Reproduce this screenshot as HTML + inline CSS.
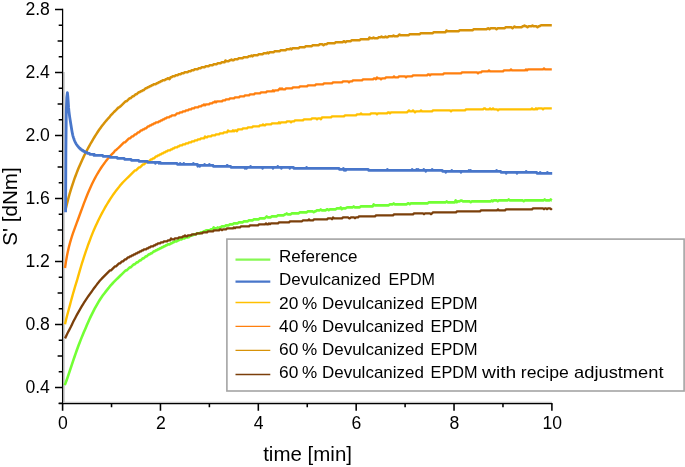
<!DOCTYPE html>
<html><head><meta charset="utf-8"><title>S' vs time</title>
<style>html,body{margin:0;padding:0;background:#fff}svg{display:block}text{font-family:"Liberation Sans",Arial,sans-serif;fill:#000}</style></head>
<body>
<svg width="685" height="467" viewBox="0 0 685 467">
<rect width="685" height="467" fill="#fff"/>
<path d="M64.1,72 V402.3 H552" fill="none" stroke="#c6c6c6" stroke-width="1.3"/>
<g fill="none" stroke-linejoin="round" stroke-linecap="butt" transform="translate(0,0.35)">
<polyline stroke="#72FF34" stroke-width="2.6" points="64.7,384.78 65.7,382.31 66.7,379.61 67.7,376.76 68.7,373.81 69.7,370.81 70.7,367.79 71.7,364.77 72.7,361.78 73.7,358.82 74.7,355.90 75.7,353.02 76.7,350.18 77.7,347.41 78.7,344.71 79.7,342.08 80.7,339.51 81.7,337.02 82.7,334.59 83.7,332.24 84.7,329.95 85.7,327.57 86.7,325.18 87.7,322.86 88.7,320.60 89.7,318.41 90.7,316.28 91.7,314.21 92.7,312.20 93.7,310.25 94.7,308.35 95.7,306.50 96.7,304.71 97.7,302.96 98.7,301.26 99.7,299.61 100.7,298.09 101.7,296.65 102.7,295.26 103.7,293.90 104.7,292.57 105.7,291.28 106.7,290.00 107.7,288.76 108.7,287.58 109.7,286.23 110.7,285.09 111.7,283.98 112.7,282.91 113.7,281.87 114.7,280.85 115.7,279.84 116.7,278.85 117.7,277.87 118.7,276.89 119.7,275.92 120.7,274.95 121.7,273.98 122.7,273.00 123.7,272.01 124.7,271.02 125.7,270.01 126.7,270.00 127.7,269.00 128.7,268.00 129.7,267.00 130.7,267.00 131.7,266.00 132.7,265.00 133.7,264.00 134.7,264.00 135.7,263.00 136.7,262.00 137.7,262.00 138.7,261.00 139.7,260.00 140.7,260.00 141.7,259.00 142.7,258.00 143.7,258.00 144.7,257.00 145.7,256.00 146.7,256.00 147.7,255.00 148.7,254.00 149.7,254.00 150.7,253.00 151.7,253.00 152.7,252.00 153.7,251.00 154.7,251.00 155.7,250.00 156.7,250.00 157.7,249.00 158.7,249.00 159.7,248.00 160.7,248.00 161.7,247.00 162.7,247.00 163.7,246.00 164.7,246.00 165.7,245.00 166.7,245.00 167.7,244.00 168.7,244.00 169.7,244.00 170.7,243.00 171.7,243.00 172.7,242.00 173.7,242.00 174.7,241.00 175.7,241.00 176.7,241.00 177.7,240.00 178.7,240.00 179.7,239.00 180.7,239.00 181.7,239.00 182.7,238.00 183.7,238.00 184.7,238.00 185.7,237.00 186.7,237.00 187.7,237.00 188.7,236.90 189.7,236.00 190.7,235.00 191.7,235.00 192.7,235.00 193.7,234.00 194.7,234.00 195.7,234.00 196.7,233.00 197.7,233.00 198.7,233.00 199.7,233.00 200.7,232.00 201.7,232.00 202.7,232.00 203.7,231.00 204.7,231.00 205.7,230.10 206.7,230.00 207.7,230.00 208.7,230.00 209.7,230.00 210.7,229.00 211.7,229.00 212.7,229.00 213.7,227.10 214.7,228.00 215.7,228.00 216.7,228.00 217.7,227.00 218.7,227.90 219.7,227.00 220.7,227.00 221.7,226.00 222.7,226.00 223.7,226.00 224.7,226.00 225.7,225.00 226.7,225.00 227.7,225.00 228.7,225.00 229.7,224.00 230.7,224.00 231.7,224.00 232.7,224.00 233.7,223.00 234.7,223.00 235.7,223.00 236.7,223.00 237.7,223.00 238.7,222.00 239.7,222.00 240.7,222.00 241.7,222.00 242.7,222.00 243.7,221.00 244.7,221.00 245.7,221.00 246.7,221.00 247.7,221.00 248.7,220.00 249.7,220.00 250.7,220.00 251.7,220.00 252.7,220.00 253.7,219.00 254.7,219.00 255.7,219.00 256.7,219.00 257.7,219.00 258.7,219.00 259.7,218.00 260.7,218.00 261.7,218.00 262.7,218.00 263.7,218.00 264.7,218.00 265.7,217.00 266.7,216.10 267.7,217.00 268.7,217.00 269.7,217.00 270.7,217.00 271.7,216.00 272.7,216.00 273.7,216.00 274.7,216.00 275.7,216.00 276.7,216.00 277.7,215.00 278.7,215.00 279.7,215.00 280.7,215.00 281.7,215.00 282.7,215.00 283.7,215.00 284.7,214.00 285.7,214.00 286.7,213.10 287.7,214.00 288.7,214.00 289.7,214.00 290.7,214.00 291.7,213.00 292.7,213.00 293.7,213.00 294.7,213.00 295.7,213.00 296.7,213.00 297.7,213.00 298.7,213.00 299.7,212.00 300.7,212.00 301.7,212.00 302.7,212.00 303.7,212.00 304.7,212.00 305.7,212.00 306.7,212.00 307.7,211.00 308.7,211.00 309.7,211.00 310.7,211.00 311.7,211.00 312.7,211.00 313.7,211.90 314.7,211.00 315.7,211.00 316.7,210.00 317.7,210.00 318.7,210.00 319.7,210.00 320.7,209.10 321.7,210.00 322.7,210.00 323.7,210.00 324.7,210.00 325.7,210.00 326.7,209.00 327.7,209.00 328.7,209.90 329.7,209.00 330.7,209.00 331.7,209.00 332.7,209.00 333.7,209.00 334.7,209.00 335.7,209.00 336.7,208.00 337.7,208.00 338.7,208.00 339.7,208.00 340.7,207.10 341.7,208.90 342.7,208.00 343.7,208.00 344.7,208.00 345.7,208.00 346.7,207.10 347.7,207.00 348.7,207.00 349.7,207.00 350.7,207.00 351.7,207.00 352.7,207.00 353.7,206.10 354.7,207.00 355.7,207.00 356.7,207.00 357.7,207.00 358.7,207.00 359.7,207.00 360.7,206.00 361.7,206.00 362.7,206.00 363.7,206.00 364.7,206.00 365.7,206.00 366.7,206.00 367.7,206.00 368.7,206.00 369.7,206.00 370.7,206.00 371.7,206.00 372.7,206.00 373.7,204.10 374.7,205.00 375.7,205.00 376.7,205.00 377.7,205.00 378.7,205.00 379.7,205.00 380.7,205.00 381.7,205.00 382.7,205.00 383.7,205.00 384.7,205.00 385.7,205.00 386.7,205.00 387.7,205.00 388.7,205.00 389.7,204.00 390.7,204.00 391.7,204.00 392.7,204.00 393.7,203.10 394.7,204.00 395.7,204.00 396.7,204.00 397.7,204.00 398.7,204.00 399.7,204.00 400.7,204.00 401.7,204.00 402.7,204.00 403.7,204.00 404.7,204.00 405.7,204.00 406.7,204.00 407.7,203.00 408.7,203.00 409.7,203.90 410.7,203.00 411.7,203.00 412.7,203.00 413.7,203.00 414.7,203.00 415.7,203.00 416.7,203.00 417.7,203.00 418.7,203.00 419.7,203.00 420.7,203.00 421.7,203.00 422.7,203.00 423.7,203.00 424.7,203.00 425.7,203.00 426.7,203.00 427.7,203.00 428.7,202.00 429.7,202.00 430.7,202.00 431.7,202.00 432.7,202.00 433.7,202.00 434.7,202.00 435.7,202.00 436.7,202.00 437.7,202.00 438.7,202.00 439.7,202.00 440.7,202.00 441.7,202.00 442.7,202.00 443.7,202.00 444.7,202.00 445.7,202.00 446.7,201.10 447.7,202.00 448.7,202.00 449.7,202.00 450.7,202.00 451.7,202.00 452.7,202.00 453.7,202.00 454.7,202.00 455.7,200.10 456.7,201.90 457.7,201.00 458.7,201.00 459.7,201.00 460.7,200.10 461.7,200.10 462.7,201.00 463.7,201.00 464.7,201.00 465.7,201.00 466.7,201.00 467.7,201.00 468.7,201.00 469.7,201.00 470.7,201.90 471.7,201.00 472.7,201.00 473.7,201.00 474.7,201.00 475.7,201.00 476.7,201.00 477.7,201.00 478.7,201.00 479.7,201.00 480.7,201.00 481.7,201.00 482.7,201.00 483.7,201.00 484.7,201.00 485.7,201.00 486.7,201.00 487.7,201.00 488.7,201.00 489.7,201.00 490.7,201.00 491.7,200.10 492.7,201.00 493.7,200.00 494.7,200.00 495.7,200.00 496.7,200.00 497.7,200.90 498.7,200.00 499.7,200.00 500.7,200.00 501.7,200.00 502.7,200.00 503.7,200.00 504.7,200.00 505.7,200.00 506.7,200.00 507.7,200.00 508.7,199.10 509.7,200.00 510.7,200.00 511.7,200.00 512.7,200.00 513.7,200.00 514.7,200.00 515.7,200.00 516.7,200.00 517.7,200.00 518.7,200.00 519.7,200.00 520.7,200.00 521.7,200.00 522.7,200.00 523.7,200.90 524.7,200.00 525.7,200.00 526.7,200.00 527.7,200.00 528.7,200.00 529.7,200.00 530.7,200.00 531.7,200.00 532.7,200.00 533.7,200.00 534.7,200.00 535.7,200.00 536.7,200.00 537.7,200.00 538.7,200.00 539.7,200.00 540.7,200.00 541.7,200.00 542.7,200.00 543.7,200.00 544.7,199.10 545.7,200.00 546.7,200.00 547.7,200.00 548.7,200.00 549.7,200.00 550.7,199.10 551.7,200.00 551.8,200.00"/>
<polyline stroke="#FFC000" stroke-width="2.4" points="65.0,323.87 66.0,319.70 67.0,315.69 68.0,311.83 69.0,308.11 70.0,304.54 71.0,300.72 72.0,297.02 73.0,293.44 74.0,289.96 75.0,286.57 76.0,283.29 77.0,280.10 78.0,276.49 79.0,272.96 80.0,269.52 81.0,266.15 82.0,262.86 83.0,259.70 84.0,256.62 85.0,253.59 86.0,250.62 87.0,247.72 88.0,244.87 89.0,242.14 90.0,239.47 91.0,236.84 92.0,234.27 93.0,231.74 94.0,229.36 95.0,227.13 96.0,224.94 97.0,222.81 98.0,220.72 99.0,218.67 100.0,216.68 101.0,214.72 102.0,212.81 103.0,210.94 104.0,209.12 105.0,207.34 106.0,205.60 107.0,203.91 108.0,202.26 109.0,200.65 110.0,199.08 111.0,197.55 112.0,196.06 113.0,194.59 114.0,193.16 115.0,191.77 116.0,190.41 117.0,189.09 118.0,187.81 119.0,186.61 120.0,185.27 121.0,184.11 122.0,183.00 123.0,181.93 124.0,180.89 125.0,179.87 126.0,178.88 127.0,177.89 128.0,176.92 129.0,175.94 130.0,174.97 131.0,173.99 132.0,173.01 133.0,172.02 134.0,171.03 135.0,170.03 136.0,169.99 137.0,169.00 138.0,168.00 139.0,167.00 140.0,167.00 141.0,166.00 142.0,165.00 143.0,164.00 144.0,164.00 145.0,163.00 146.0,162.00 147.0,162.00 148.0,161.00 149.0,161.00 150.0,160.00 151.0,159.00 152.0,159.00 153.0,158.00 154.0,158.00 155.0,157.00 156.0,156.00 157.0,156.00 158.0,155.00 159.0,155.00 160.0,154.00 161.0,154.00 162.0,153.00 163.0,153.00 164.0,152.00 165.0,152.00 166.0,151.00 167.0,151.00 168.0,150.00 169.0,150.00 170.0,150.00 171.0,149.00 172.0,149.00 173.0,148.00 174.0,148.00 175.0,147.00 176.0,147.00 177.0,147.00 178.0,146.00 179.0,146.00 180.0,145.00 181.0,145.00 182.0,145.00 183.0,144.00 184.0,144.00 185.0,144.00 186.0,143.00 187.0,143.00 188.0,143.00 189.0,142.00 190.0,142.00 191.0,142.00 192.0,141.00 193.0,141.00 194.0,141.00 195.0,140.00 196.0,140.00 197.0,140.00 198.0,139.00 199.0,139.00 200.0,139.00 201.0,138.00 202.0,138.00 203.0,138.00 204.0,138.00 205.0,136.10 206.0,137.00 207.0,137.00 208.0,136.00 209.0,136.00 210.0,136.00 211.0,136.00 212.0,135.00 213.0,135.00 214.0,135.00 215.0,135.00 216.0,134.00 217.0,134.00 218.0,134.00 219.0,134.00 220.0,133.00 221.0,133.00 222.0,133.00 223.0,133.00 224.0,132.00 225.0,132.00 226.0,132.00 227.0,132.00 228.0,130.10 229.0,131.00 230.0,131.00 231.0,131.00 232.0,131.00 233.0,130.00 234.0,130.90 235.0,130.00 236.0,130.00 237.0,130.90 238.0,129.00 239.0,129.00 240.0,129.00 241.0,129.00 242.0,129.00 243.0,128.00 244.0,128.00 245.0,128.00 246.0,128.00 247.0,128.00 248.0,127.00 249.0,127.00 250.0,127.00 251.0,127.00 252.0,127.00 253.0,126.10 254.0,126.00 255.0,126.00 256.0,126.00 257.0,126.00 258.0,126.00 259.0,126.00 260.0,125.00 261.0,125.00 262.0,125.00 263.0,124.10 264.0,125.00 265.0,125.00 266.0,124.00 267.0,124.00 268.0,124.00 269.0,124.00 270.0,124.00 271.0,124.00 272.0,123.00 273.0,123.00 274.0,123.00 275.0,123.00 276.0,123.00 277.0,123.00 278.0,123.00 279.0,122.00 280.0,122.90 281.0,122.00 282.0,122.00 283.0,122.00 284.0,122.00 285.0,122.00 286.0,122.00 287.0,121.00 288.0,121.00 289.0,121.00 290.0,121.00 291.0,121.90 292.0,121.00 293.0,121.00 294.0,121.00 295.0,120.00 296.0,120.00 297.0,120.00 298.0,120.00 299.0,120.00 300.0,120.00 301.0,120.00 302.0,120.00 303.0,119.90 304.0,119.00 305.0,119.00 306.0,119.00 307.0,119.00 308.0,119.00 309.0,119.00 310.0,119.00 311.0,119.00 312.0,118.00 313.0,118.00 314.0,118.00 315.0,118.00 316.0,118.00 317.0,118.90 318.0,118.00 319.0,118.00 320.0,118.00 321.0,118.90 322.0,117.00 323.0,117.00 324.0,117.00 325.0,117.00 326.0,117.00 327.0,117.00 328.0,117.00 329.0,117.00 330.0,117.00 331.0,117.00 332.0,116.00 333.0,116.00 334.0,116.00 335.0,116.00 336.0,116.00 337.0,116.00 338.0,116.00 339.0,116.00 340.0,116.00 341.0,116.00 342.0,116.00 343.0,116.00 344.0,115.90 345.0,115.00 346.0,115.00 347.0,115.00 348.0,115.00 349.0,115.00 350.0,115.00 351.0,115.00 352.0,115.00 353.0,115.00 354.0,115.00 355.0,115.00 356.0,115.00 357.0,114.00 358.0,114.00 359.0,114.00 360.0,114.00 361.0,113.10 362.0,114.00 363.0,114.00 364.0,114.00 365.0,114.00 366.0,114.00 367.0,114.00 368.0,114.00 369.0,114.00 370.0,114.00 371.0,113.00 372.0,113.00 373.0,113.00 374.0,113.00 375.0,113.00 376.0,113.00 377.0,113.90 378.0,113.00 379.0,113.00 380.0,113.00 381.0,113.00 382.0,113.00 383.0,113.00 384.0,113.00 385.0,113.00 386.0,113.00 387.0,113.00 388.0,112.00 389.0,112.00 390.0,112.90 391.0,112.00 392.0,112.00 393.0,112.00 394.0,112.00 395.0,112.00 396.0,112.00 397.0,112.00 398.0,112.00 399.0,112.00 400.0,112.00 401.0,112.00 402.0,112.00 403.0,112.00 404.0,112.00 405.0,112.00 406.0,112.00 407.0,112.00 408.0,111.00 409.0,110.10 410.0,111.00 411.0,111.00 412.0,111.00 413.0,110.10 414.0,111.00 415.0,111.90 416.0,111.00 417.0,111.00 418.0,111.00 419.0,111.00 420.0,111.00 421.0,110.10 422.0,111.00 423.0,111.00 424.0,111.00 425.0,111.00 426.0,111.00 427.0,111.00 428.0,111.00 429.0,111.00 430.0,111.00 431.0,111.00 432.0,111.00 433.0,110.00 434.0,110.00 435.0,110.00 436.0,110.00 437.0,110.00 438.0,110.00 439.0,110.00 440.0,110.00 441.0,110.00 442.0,110.00 443.0,110.00 444.0,110.00 445.0,110.00 446.0,110.00 447.0,110.00 448.0,110.00 449.0,110.00 450.0,110.00 451.0,110.90 452.0,110.00 453.0,110.00 454.0,110.00 455.0,110.00 456.0,110.00 457.0,110.00 458.0,110.00 459.0,110.00 460.0,110.00 461.0,110.00 462.0,110.00 463.0,110.00 464.0,110.00 465.0,110.00 466.0,109.00 467.0,109.00 468.0,109.00 469.0,109.00 470.0,109.00 471.0,109.00 472.0,109.00 473.0,109.00 474.0,109.00 475.0,109.00 476.0,109.00 477.0,109.00 478.0,109.00 479.0,109.00 480.0,109.00 481.0,109.00 482.0,109.00 483.0,109.00 484.0,108.10 485.0,108.10 486.0,109.00 487.0,109.00 488.0,109.00 489.0,109.00 490.0,108.10 491.0,109.00 492.0,109.00 493.0,108.10 494.0,109.00 495.0,109.00 496.0,109.00 497.0,109.00 498.0,109.90 499.0,109.00 500.0,109.00 501.0,109.00 502.0,109.00 503.0,109.00 504.0,109.00 505.0,109.00 506.0,109.00 507.0,109.00 508.0,109.00 509.0,109.00 510.0,109.00 511.0,109.00 512.0,109.00 513.0,109.00 514.0,109.00 515.0,109.00 516.0,109.00 517.0,109.00 518.0,109.00 519.0,109.00 520.0,109.00 521.0,109.00 522.0,109.00 523.0,109.00 524.0,109.00 525.0,109.00 526.0,109.00 527.0,109.00 528.0,109.00 529.0,109.00 530.0,109.00 531.0,109.00 532.0,108.10 533.0,109.00 534.0,109.00 535.0,109.00 536.0,108.00 537.0,108.90 538.0,108.00 539.0,108.00 540.0,108.00 541.0,108.00 542.0,108.00 543.0,108.90 544.0,108.00 545.0,108.00 546.0,108.00 547.0,108.00 548.0,108.00 549.0,108.00 550.0,108.00 551.0,108.00 551.8,108.00"/>
<polyline stroke="#FF7F0E" stroke-width="2.4" points="65.0,267.67 66.0,260.99 67.0,255.34 68.0,250.50 69.0,246.26 70.0,242.49 71.0,239.05 72.0,235.88 73.0,232.89 74.0,230.03 75.0,227.25 76.0,224.53 77.0,221.82 78.0,219.12 79.0,216.40 80.0,213.66 81.0,210.92 82.0,208.19 83.0,205.49 84.0,202.82 85.0,200.21 86.0,197.65 87.0,195.15 88.0,192.72 89.0,190.36 90.0,188.07 91.0,185.86 92.0,183.72 93.0,181.66 94.0,179.68 95.0,177.78 96.0,175.94 97.0,174.16 98.0,172.45 99.0,170.79 100.0,169.19 101.0,167.66 102.0,166.19 103.0,164.76 104.0,163.37 105.0,162.02 106.0,160.73 107.0,159.41 108.0,158.18 109.0,157.02 110.0,155.91 111.0,154.83 112.0,153.79 113.0,152.77 114.0,151.78 115.0,150.20 116.0,149.82 117.0,148.86 118.0,147.89 119.0,146.93 120.0,145.96 121.0,144.99 122.0,144.00 123.0,143.01 124.0,142.01 125.0,142.00 126.0,141.00 127.0,140.00 128.0,139.00 129.0,138.00 130.0,138.00 131.0,137.00 132.0,136.00 133.0,136.00 134.0,135.00 135.0,134.00 136.0,134.00 137.0,133.00 138.0,132.00 139.0,132.00 140.0,131.00 141.0,130.00 142.0,130.00 143.0,129.00 144.0,129.00 145.0,128.00 146.0,128.00 147.0,127.00 148.0,126.00 149.0,126.00 150.0,125.00 151.0,125.00 152.0,124.00 153.0,124.00 154.0,123.00 155.0,123.00 156.0,122.00 157.0,122.00 158.0,122.00 159.0,121.00 160.0,121.00 161.0,120.00 162.0,120.00 163.0,119.00 164.0,119.00 165.0,118.00 166.0,118.00 167.0,117.00 168.0,117.00 169.0,117.00 170.0,116.00 171.0,116.00 172.0,115.00 173.0,115.00 174.0,115.00 175.0,114.90 176.0,114.00 177.0,113.00 178.0,113.00 179.0,113.00 180.0,112.00 181.0,112.00 182.0,112.00 183.0,111.00 184.0,111.00 185.0,111.00 186.0,110.00 187.0,110.00 188.0,110.00 189.0,109.00 190.0,109.00 191.0,109.00 192.0,108.00 193.0,108.00 194.0,108.00 195.0,107.00 196.0,107.00 197.0,107.00 198.0,107.00 199.0,106.00 200.0,106.00 201.0,106.00 202.0,105.00 203.0,105.00 204.0,104.10 205.0,105.00 206.0,104.00 207.0,104.00 208.0,104.00 209.0,104.00 210.0,103.00 211.0,103.00 212.0,103.00 213.0,102.00 214.0,102.00 215.0,101.10 216.0,102.00 217.0,101.00 218.0,101.00 219.0,101.00 220.0,101.00 221.0,101.00 222.0,100.90 223.0,100.00 224.0,100.00 225.0,100.00 226.0,99.00 227.0,99.00 228.0,99.00 229.0,99.00 230.0,98.00 231.0,98.00 232.0,98.00 233.0,98.00 234.0,98.00 235.0,97.00 236.0,97.00 237.0,97.00 238.0,97.00 239.0,97.00 240.0,96.00 241.0,96.00 242.0,96.00 243.0,96.00 244.0,96.00 245.0,95.00 246.0,95.00 247.0,95.00 248.0,95.00 249.0,95.00 250.0,94.00 251.0,94.00 252.0,94.00 253.0,94.00 254.0,94.00 255.0,93.00 256.0,93.00 257.0,93.00 258.0,93.00 259.0,93.00 260.0,93.00 261.0,92.00 262.0,92.00 263.0,92.00 264.0,92.00 265.0,92.00 266.0,92.00 267.0,91.00 268.0,91.00 269.0,91.00 270.0,91.00 271.0,91.00 272.0,91.00 273.0,90.00 274.0,90.90 275.0,90.00 276.0,90.00 277.0,90.00 278.0,90.00 279.0,89.00 280.0,88.10 281.0,89.00 282.0,88.10 283.0,89.00 284.0,89.00 285.0,89.00 286.0,88.00 287.0,88.00 288.0,88.00 289.0,88.00 290.0,88.00 291.0,88.00 292.0,88.00 293.0,87.00 294.0,87.00 295.0,87.00 296.0,87.00 297.0,87.00 298.0,87.00 299.0,87.00 300.0,86.00 301.0,86.00 302.0,86.00 303.0,86.00 304.0,86.00 305.0,86.00 306.0,86.00 307.0,86.00 308.0,85.00 309.0,85.00 310.0,85.00 311.0,85.00 312.0,85.00 313.0,85.00 314.0,85.00 315.0,85.00 316.0,84.00 317.0,84.00 318.0,84.00 319.0,84.00 320.0,84.00 321.0,84.00 322.0,84.00 323.0,84.00 324.0,83.00 325.0,83.00 326.0,83.00 327.0,83.00 328.0,83.00 329.0,83.00 330.0,83.00 331.0,83.00 332.0,83.00 333.0,82.00 334.0,82.00 335.0,82.00 336.0,82.00 337.0,82.00 338.0,82.00 339.0,82.00 340.0,82.00 341.0,82.00 342.0,82.00 343.0,81.00 344.0,81.00 345.0,81.00 346.0,81.00 347.0,81.00 348.0,81.00 349.0,81.90 350.0,81.00 351.0,81.00 352.0,81.00 353.0,80.00 354.0,80.00 355.0,80.00 356.0,80.00 357.0,80.00 358.0,80.00 359.0,80.00 360.0,80.00 361.0,80.00 362.0,80.00 363.0,79.00 364.0,79.00 365.0,79.00 366.0,79.00 367.0,79.00 368.0,79.00 369.0,79.00 370.0,79.00 371.0,79.00 372.0,79.00 373.0,79.00 374.0,78.00 375.0,78.00 376.0,78.90 377.0,77.10 378.0,78.00 379.0,78.00 380.0,78.00 381.0,78.90 382.0,78.00 383.0,78.00 384.0,78.00 385.0,78.00 386.0,77.00 387.0,77.00 388.0,77.00 389.0,77.00 390.0,77.00 391.0,77.00 392.0,77.00 393.0,77.00 394.0,76.10 395.0,77.00 396.0,77.00 397.0,77.00 398.0,77.00 399.0,76.00 400.0,76.00 401.0,76.00 402.0,76.00 403.0,76.00 404.0,76.00 405.0,76.00 406.0,76.90 407.0,76.00 408.0,76.00 409.0,76.00 410.0,76.00 411.0,76.00 412.0,76.00 413.0,75.00 414.0,75.00 415.0,75.00 416.0,75.00 417.0,75.00 418.0,75.00 419.0,75.00 420.0,75.00 421.0,75.00 422.0,75.00 423.0,75.00 424.0,75.00 425.0,75.00 426.0,75.00 427.0,75.00 428.0,74.00 429.0,74.00 430.0,74.90 431.0,74.00 432.0,74.00 433.0,74.00 434.0,74.00 435.0,74.00 436.0,74.00 437.0,74.00 438.0,74.00 439.0,74.00 440.0,74.00 441.0,74.00 442.0,74.00 443.0,74.00 444.0,73.00 445.0,73.00 446.0,73.00 447.0,73.00 448.0,73.00 449.0,73.00 450.0,73.00 451.0,73.00 452.0,73.00 453.0,73.00 454.0,73.00 455.0,73.00 456.0,73.00 457.0,73.00 458.0,73.00 459.0,73.00 460.0,73.00 461.0,73.00 462.0,72.00 463.0,72.00 464.0,72.00 465.0,72.00 466.0,72.00 467.0,72.00 468.0,72.00 469.0,72.00 470.0,72.00 471.0,72.00 472.0,72.00 473.0,72.00 474.0,72.00 475.0,72.00 476.0,72.00 477.0,72.00 478.0,72.90 479.0,72.00 480.0,72.00 481.0,72.00 482.0,71.00 483.0,71.00 484.0,71.00 485.0,71.00 486.0,71.00 487.0,71.00 488.0,71.00 489.0,70.10 490.0,71.00 491.0,71.00 492.0,71.00 493.0,71.00 494.0,71.00 495.0,71.00 496.0,71.00 497.0,71.00 498.0,71.00 499.0,71.00 500.0,71.00 501.0,71.00 502.0,71.00 503.0,71.00 504.0,70.00 505.0,70.00 506.0,70.00 507.0,70.00 508.0,70.00 509.0,70.00 510.0,70.00 511.0,69.10 512.0,70.00 513.0,70.00 514.0,70.00 515.0,70.00 516.0,70.00 517.0,70.00 518.0,70.00 519.0,70.00 520.0,70.00 521.0,70.00 522.0,70.00 523.0,70.00 524.0,70.00 525.0,70.00 526.0,69.10 527.0,70.00 528.0,69.00 529.0,69.00 530.0,69.00 531.0,69.00 532.0,69.00 533.0,69.00 534.0,69.00 535.0,69.00 536.0,69.00 537.0,69.00 538.0,69.00 539.0,69.00 540.0,69.00 541.0,69.00 542.0,69.00 543.0,69.00 544.0,68.10 545.0,69.00 546.0,69.00 547.0,69.00 548.0,69.00 549.0,69.00 550.0,69.00 551.0,69.00 551.8,69.00"/>
<polyline stroke="#D79208" stroke-width="2.5" points="65.5,209.55 66.5,205.29 67.5,201.29 68.5,197.51 69.5,193.93 70.5,190.52 71.5,187.27 72.5,184.17 73.5,181.20 74.5,178.35 75.5,175.62 76.5,172.98 77.5,170.44 78.5,167.98 79.5,165.60 80.5,163.30 81.5,161.06 82.5,158.89 83.5,156.77 84.5,154.72 85.5,152.72 86.5,150.76 87.5,148.86 88.5,146.99 89.5,145.18 90.5,143.40 91.5,141.66 92.5,139.95 93.5,138.28 94.5,136.65 95.5,135.05 96.5,133.48 97.5,131.95 98.5,130.44 99.5,128.97 100.5,127.57 101.5,126.23 102.5,124.93 103.5,123.67 104.5,122.35 105.5,121.14 106.5,119.99 107.5,118.87 108.5,117.80 109.5,116.75 110.5,115.27 111.5,114.21 112.5,113.18 113.5,112.15 114.5,111.16 115.5,110.17 116.5,109.16 117.5,108.15 118.5,107.14 119.5,106.87 120.5,105.91 121.5,104.95 122.5,103.98 123.5,103.00 124.5,102.01 125.5,101.00 126.5,101.00 127.5,100.00 128.5,99.00 129.5,98.00 130.5,98.00 131.5,97.00 132.5,96.00 133.5,96.00 134.5,95.00 135.5,94.00 136.5,94.00 137.5,93.00 138.5,92.00 139.5,92.00 140.5,91.00 141.5,91.00 142.5,90.00 143.5,90.00 144.5,89.00 145.5,88.00 146.5,88.00 147.5,87.00 148.5,87.00 149.5,86.00 150.5,86.00 151.5,85.00 152.5,85.00 153.5,84.00 154.5,84.00 155.5,84.00 156.5,83.00 157.5,83.00 158.5,82.00 159.5,82.00 160.5,81.00 161.5,81.00 162.5,80.00 163.5,80.00 164.5,80.00 165.5,79.00 166.5,79.00 167.5,78.00 168.5,78.00 169.5,78.90 170.5,77.00 171.5,77.00 172.5,76.00 173.5,76.00 174.5,76.00 175.5,75.00 176.5,75.00 177.5,75.00 178.5,74.00 179.5,74.00 180.5,74.00 181.5,73.00 182.5,73.00 183.5,73.00 184.5,72.00 185.5,72.00 186.5,72.00 187.5,72.00 188.5,71.00 189.5,71.00 190.5,71.00 191.5,70.00 192.5,70.00 193.5,70.00 194.5,69.00 195.5,69.00 196.5,69.00 197.5,69.00 198.5,68.00 199.5,68.00 200.5,68.00 201.5,67.00 202.5,67.00 203.5,67.00 204.5,67.00 205.5,66.00 206.5,66.00 207.5,66.00 208.5,66.00 209.5,65.00 210.5,65.00 211.5,65.00 212.5,65.00 213.5,64.00 214.5,64.00 215.5,64.00 216.5,64.00 217.5,63.00 218.5,63.00 219.5,63.00 220.5,63.00 221.5,62.00 222.5,62.00 223.5,62.00 224.5,62.00 225.5,60.10 226.5,61.00 227.5,61.00 228.5,61.00 229.5,60.00 230.5,60.00 231.5,59.10 232.5,60.00 233.5,60.00 234.5,59.00 235.5,59.00 236.5,59.00 237.5,59.00 238.5,58.00 239.5,58.00 240.5,58.00 241.5,58.00 242.5,58.00 243.5,57.00 244.5,57.00 245.5,57.00 246.5,57.00 247.5,57.00 248.5,56.00 249.5,56.00 250.5,56.00 251.5,55.10 252.5,56.00 253.5,55.00 254.5,55.00 255.5,55.00 256.5,55.00 257.5,55.00 258.5,54.00 259.5,54.00 260.5,54.00 261.5,54.00 262.5,54.00 263.5,53.00 264.5,53.00 265.5,53.00 266.5,53.00 267.5,52.10 268.5,53.00 269.5,52.00 270.5,52.00 271.5,52.00 272.5,52.00 273.5,52.00 274.5,51.00 275.5,51.00 276.5,51.00 277.5,51.00 278.5,51.00 279.5,51.00 280.5,50.00 281.5,50.00 282.5,50.00 283.5,50.00 284.5,50.00 285.5,50.00 286.5,49.00 287.5,49.00 288.5,49.00 289.5,49.00 290.5,48.10 291.5,49.00 292.5,48.00 293.5,48.00 294.5,48.00 295.5,48.00 296.5,48.00 297.5,48.00 298.5,48.00 299.5,47.00 300.5,47.00 301.5,47.00 302.5,47.00 303.5,47.00 304.5,47.00 305.5,46.00 306.5,46.00 307.5,46.00 308.5,46.00 309.5,46.00 310.5,46.00 311.5,46.00 312.5,45.00 313.5,45.00 314.5,45.00 315.5,45.00 316.5,45.00 317.5,45.00 318.5,45.00 319.5,44.00 320.5,44.00 321.5,44.00 322.5,44.00 323.5,44.90 324.5,44.00 325.5,44.00 326.5,44.00 327.5,43.00 328.5,43.00 329.5,43.00 330.5,43.00 331.5,43.00 332.5,43.00 333.5,43.00 334.5,43.00 335.5,42.00 336.5,42.00 337.5,42.00 338.5,42.00 339.5,42.00 340.5,42.00 341.5,42.00 342.5,42.00 343.5,41.00 344.5,41.00 345.5,41.90 346.5,41.00 347.5,41.00 348.5,41.00 349.5,41.00 350.5,41.00 351.5,40.00 352.5,40.00 353.5,40.00 354.5,40.00 355.5,40.00 356.5,40.00 357.5,40.00 358.5,40.00 359.5,40.00 360.5,39.00 361.5,39.00 362.5,39.00 363.5,39.00 364.5,39.00 365.5,39.00 366.5,39.00 367.5,39.00 368.5,39.00 369.5,37.10 370.5,38.00 371.5,38.00 372.5,38.00 373.5,37.10 374.5,38.00 375.5,38.00 376.5,38.00 377.5,38.00 378.5,37.00 379.5,37.00 380.5,37.00 381.5,36.10 382.5,37.00 383.5,37.00 384.5,37.00 385.5,36.10 386.5,37.00 387.5,37.00 388.5,36.00 389.5,36.00 390.5,36.00 391.5,36.00 392.5,36.00 393.5,35.10 394.5,36.00 395.5,36.00 396.5,36.00 397.5,36.00 398.5,35.00 399.5,34.10 400.5,35.00 401.5,35.00 402.5,35.00 403.5,35.00 404.5,35.00 405.5,35.00 406.5,35.00 407.5,35.00 408.5,35.00 409.5,34.00 410.5,34.00 411.5,34.00 412.5,34.00 413.5,34.00 414.5,34.00 415.5,34.00 416.5,34.00 417.5,34.00 418.5,34.00 419.5,34.00 420.5,33.00 421.5,33.00 422.5,33.00 423.5,33.00 424.5,33.00 425.5,33.00 426.5,33.00 427.5,33.00 428.5,33.00 429.5,33.00 430.5,33.00 431.5,33.00 432.5,33.00 433.5,32.00 434.5,32.00 435.5,32.00 436.5,32.00 437.5,32.00 438.5,32.00 439.5,32.00 440.5,32.00 441.5,32.00 442.5,32.00 443.5,32.00 444.5,32.00 445.5,31.90 446.5,30.10 447.5,31.00 448.5,31.00 449.5,31.00 450.5,31.00 451.5,31.00 452.5,31.00 453.5,31.00 454.5,31.00 455.5,31.00 456.5,31.00 457.5,31.00 458.5,31.00 459.5,30.00 460.5,30.00 461.5,30.00 462.5,30.00 463.5,30.00 464.5,30.00 465.5,30.00 466.5,30.00 467.5,30.00 468.5,30.00 469.5,30.00 470.5,30.00 471.5,30.00 472.5,30.00 473.5,29.00 474.5,29.00 475.5,29.00 476.5,29.00 477.5,29.00 478.5,29.00 479.5,29.00 480.5,29.00 481.5,29.00 482.5,29.00 483.5,29.00 484.5,29.00 485.5,29.00 486.5,29.00 487.5,28.10 488.5,28.00 489.5,28.90 490.5,28.00 491.5,28.00 492.5,28.00 493.5,28.00 494.5,28.00 495.5,28.00 496.5,28.90 497.5,28.00 498.5,28.00 499.5,28.00 500.5,28.00 501.5,28.00 502.5,28.00 503.5,28.00 504.5,28.00 505.5,27.00 506.5,27.00 507.5,27.00 508.5,27.00 509.5,27.00 510.5,27.00 511.5,27.00 512.5,27.90 513.5,27.00 514.5,26.10 515.5,27.00 516.5,27.00 517.5,27.00 518.5,27.00 519.5,27.00 520.5,27.00 521.5,27.00 522.5,26.00 523.5,26.00 524.5,25.10 525.5,26.00 526.5,26.00 527.5,26.90 528.5,26.00 529.5,26.00 530.5,26.00 531.5,26.00 532.5,25.10 533.5,26.00 534.5,26.00 535.5,26.00 536.5,26.00 537.5,26.90 538.5,26.00 539.5,26.00 540.5,25.10 541.5,25.00 542.5,25.00 543.5,25.00 544.5,25.00 545.5,25.00 546.5,25.00 547.5,25.00 548.5,25.00 549.5,25.00 550.5,25.00 551.5,25.00 551.8,25.00"/>
<polyline stroke="#7B3F0A" stroke-width="2.3" points="65.0,338.03 66.0,336.02 67.0,334.01 68.0,332.00 69.0,330.02 70.0,328.06 71.0,326.15 72.0,324.06 73.0,322.01 74.0,320.01 75.0,318.06 76.0,316.15 77.0,314.30 78.0,312.49 79.0,310.74 80.0,309.03 81.0,307.28 82.0,305.59 83.0,303.94 84.0,302.33 85.0,300.76 86.0,299.23 87.0,297.74 88.0,296.29 89.0,294.88 90.0,293.50 91.0,292.16 92.0,290.72 93.0,289.31 94.0,287.93 95.0,286.59 96.0,285.27 97.0,283.98 98.0,282.75 99.0,281.41 100.0,280.20 101.0,279.11 102.0,278.07 103.0,277.04 104.0,276.03 105.0,275.03 106.0,274.04 107.0,273.05 108.0,272.06 109.0,271.07 110.0,270.07 111.0,269.95 112.0,268.98 113.0,268.00 114.0,267.00 115.0,266.00 116.0,266.00 117.0,265.00 118.0,264.00 119.0,263.00 120.0,263.00 121.0,262.00 122.0,261.00 123.0,261.00 124.0,260.00 125.0,259.00 126.0,259.00 127.0,258.00 128.0,257.00 129.0,257.00 130.0,256.00 131.0,256.00 132.0,255.00 133.0,255.00 134.0,254.00 135.0,254.00 136.0,253.00 137.0,253.00 138.0,252.00 139.0,252.00 140.0,251.00 141.0,251.00 142.0,250.00 143.0,250.00 144.0,249.00 145.0,249.00 146.0,249.00 147.0,248.00 148.0,248.00 149.0,247.00 150.0,247.00 151.0,246.00 152.0,246.00 153.0,246.00 154.0,245.00 155.0,245.00 156.0,244.00 157.0,244.00 158.0,243.00 159.0,243.00 160.0,243.00 161.0,242.00 162.0,242.00 163.0,242.00 164.0,241.00 165.0,241.00 166.0,241.00 167.0,241.00 168.0,240.00 169.0,240.00 170.0,240.00 171.0,238.10 172.0,239.00 173.0,239.00 174.0,239.00 175.0,238.00 176.0,238.00 177.0,238.00 178.0,238.00 179.0,237.00 180.0,237.00 181.0,237.00 182.0,237.00 183.0,236.00 184.0,236.00 185.0,235.10 186.0,236.00 187.0,236.00 188.0,235.00 189.0,235.00 190.0,235.00 191.0,235.00 192.0,234.00 193.0,234.00 194.0,234.00 195.0,234.00 196.0,234.00 197.0,233.00 198.0,233.00 199.0,233.00 200.0,233.00 201.0,233.00 202.0,233.00 203.0,232.00 204.0,232.00 205.0,232.00 206.0,232.00 207.0,232.00 208.0,231.00 209.0,231.00 210.0,231.00 211.0,231.00 212.0,231.00 213.0,231.00 214.0,230.00 215.0,230.00 216.0,230.00 217.0,230.00 218.0,230.00 219.0,230.00 220.0,229.00 221.0,229.00 222.0,229.90 223.0,229.00 224.0,229.00 225.0,229.00 226.0,229.00 227.0,228.00 228.0,228.00 229.0,228.00 230.0,228.00 231.0,228.00 232.0,228.00 233.0,228.00 234.0,227.00 235.0,227.90 236.0,227.00 237.0,227.00 238.0,227.00 239.0,227.00 240.0,227.00 241.0,226.10 242.0,226.00 243.0,226.00 244.0,226.00 245.0,226.00 246.0,226.00 247.0,226.00 248.0,226.00 249.0,226.00 250.0,225.00 251.0,225.00 252.0,225.00 253.0,225.00 254.0,225.00 255.0,225.00 256.0,225.00 257.0,225.00 258.0,225.00 259.0,224.00 260.0,224.00 261.0,224.00 262.0,224.00 263.0,224.00 264.0,224.00 265.0,224.00 266.0,223.10 267.0,224.00 268.0,224.00 269.0,223.00 270.0,223.90 271.0,223.00 272.0,223.00 273.0,223.00 274.0,223.00 275.0,223.00 276.0,223.00 277.0,223.00 278.0,223.00 279.0,222.00 280.0,222.00 281.0,222.00 282.0,222.00 283.0,222.00 284.0,222.00 285.0,222.00 286.0,222.00 287.0,222.00 288.0,222.00 289.0,222.00 290.0,221.00 291.0,221.00 292.0,221.00 293.0,221.00 294.0,221.00 295.0,221.00 296.0,221.00 297.0,221.00 298.0,221.00 299.0,221.00 300.0,221.00 301.0,221.00 302.0,220.90 303.0,220.00 304.0,220.00 305.0,220.00 306.0,220.00 307.0,220.00 308.0,220.00 309.0,219.10 310.0,220.00 311.0,220.00 312.0,220.00 313.0,220.00 314.0,219.00 315.0,219.00 316.0,219.00 317.0,219.00 318.0,219.00 319.0,219.00 320.0,219.00 321.0,219.00 322.0,219.00 323.0,219.00 324.0,219.00 325.0,219.00 326.0,219.00 327.0,219.00 328.0,218.00 329.0,218.00 330.0,218.00 331.0,218.00 332.0,218.90 333.0,217.10 334.0,218.00 335.0,218.00 336.0,218.00 337.0,218.00 338.0,218.00 339.0,218.00 340.0,218.00 341.0,218.00 342.0,218.00 343.0,217.00 344.0,217.00 345.0,217.00 346.0,217.00 347.0,217.00 348.0,217.00 349.0,217.90 350.0,217.90 351.0,217.00 352.0,217.00 353.0,217.00 354.0,217.00 355.0,217.90 356.0,217.00 357.0,217.00 358.0,217.00 359.0,216.00 360.0,216.00 361.0,216.00 362.0,216.00 363.0,216.00 364.0,216.00 365.0,216.00 366.0,216.00 367.0,216.00 368.0,216.00 369.0,216.00 370.0,216.00 371.0,216.00 372.0,216.00 373.0,216.00 374.0,216.00 375.0,216.00 376.0,215.00 377.0,215.00 378.0,215.00 379.0,215.00 380.0,215.00 381.0,215.00 382.0,215.00 383.0,215.00 384.0,215.00 385.0,215.00 386.0,215.00 387.0,215.00 388.0,215.00 389.0,215.00 390.0,215.00 391.0,215.00 392.0,215.00 393.0,215.00 394.0,214.00 395.0,214.00 396.0,214.00 397.0,214.00 398.0,214.00 399.0,214.00 400.0,214.00 401.0,214.00 402.0,214.00 403.0,214.00 404.0,214.00 405.0,214.00 406.0,214.00 407.0,214.00 408.0,214.00 409.0,214.00 410.0,214.00 411.0,214.00 412.0,214.00 413.0,214.00 414.0,213.00 415.0,213.00 416.0,213.00 417.0,213.00 418.0,213.00 419.0,213.00 420.0,213.00 421.0,213.00 422.0,213.00 423.0,213.00 424.0,213.90 425.0,213.00 426.0,213.00 427.0,213.00 428.0,213.00 429.0,213.00 430.0,213.00 431.0,213.90 432.0,213.00 433.0,212.10 434.0,212.00 435.0,212.00 436.0,212.00 437.0,212.00 438.0,212.00 439.0,212.00 440.0,212.00 441.0,212.00 442.0,212.00 443.0,212.00 444.0,212.00 445.0,212.00 446.0,212.00 447.0,212.00 448.0,212.00 449.0,212.00 450.0,212.00 451.0,212.00 452.0,212.00 453.0,212.00 454.0,212.00 455.0,212.00 456.0,212.00 457.0,211.00 458.0,211.00 459.0,211.00 460.0,211.00 461.0,211.00 462.0,211.00 463.0,211.00 464.0,211.00 465.0,211.00 466.0,211.00 467.0,211.00 468.0,211.00 469.0,211.00 470.0,211.00 471.0,211.00 472.0,211.00 473.0,211.00 474.0,211.00 475.0,211.00 476.0,211.00 477.0,211.00 478.0,211.00 479.0,211.00 480.0,211.00 481.0,210.00 482.0,210.00 483.0,210.00 484.0,210.00 485.0,210.00 486.0,210.00 487.0,210.00 488.0,210.00 489.0,210.00 490.0,210.00 491.0,210.00 492.0,210.00 493.0,210.00 494.0,210.00 495.0,210.00 496.0,210.00 497.0,210.00 498.0,209.10 499.0,210.00 500.0,210.00 501.0,210.00 502.0,210.00 503.0,210.00 504.0,210.00 505.0,210.00 506.0,209.00 507.0,209.00 508.0,209.00 509.0,209.00 510.0,209.00 511.0,209.00 512.0,209.00 513.0,209.00 514.0,209.00 515.0,209.00 516.0,209.00 517.0,209.00 518.0,209.00 519.0,209.00 520.0,209.00 521.0,209.00 522.0,209.00 523.0,209.00 524.0,209.00 525.0,209.00 526.0,209.00 527.0,209.00 528.0,209.00 529.0,209.00 530.0,209.00 531.0,209.00 532.0,209.00 533.0,208.00 534.0,208.00 535.0,208.00 536.0,208.00 537.0,208.00 538.0,208.00 539.0,208.00 540.0,208.00 541.0,208.00 542.0,208.00 543.0,208.00 544.0,208.90 545.0,208.00 546.0,208.00 547.0,208.90 548.0,208.00 549.0,208.00 550.0,208.00 551.0,208.90 551.8,208.00"/>
<polyline stroke="#4876CA" stroke-width="2.8" points="65.6,211.8 65.9,150 66.3,110 66.8,97 67.4,92.40 67.8,95.79 68.2,100.96 68.6,107.30 69.0,111.24 69.4,114.51 69.8,117.33 70.2,119.90 70.6,122.44 71.0,124.99 71.4,127.49 71.8,129.88 72.2,132.08 72.6,134.04 73.0,135.70 73.4,137.04 73.8,138.23 74.2,139.33 74.6,140.34 75.0,141.27 75.4,142.11 75.8,142.88 76.2,143.58 76.6,144.21 77.0,144.78 77.4,145.32 77.8,145.85 78.2,146.24 78.6,146.86 79.0,147.11 79.4,147.85 79.8,148.00 80.2,148.07 80.6,148.98 81.0,149.00 81.4,149.00 81.8,150.00 82.2,150.00 82.6,150.00 83.0,150.00 83.4,151.00 83.8,151.00 84.2,151.00 84.6,151.00 85.0,152.00 85.4,152.00 85.8,152.00 86.2,152.00 86.6,152.00 87.0,152.00 87.4,153.00 87.8,153.00 88.2,153.00 88.6,153.00 89.0,153.00 89.4,153.00 89.8,154.00 90.2,154.00 90.6,154.00 91.0,154.00 91.4,154.00 91.8,154.00 92.2,154.00 92.6,154.00 93.0,154.00 93.4,154.00 93.8,154.90 94.2,154.00 94.6,155.00 95.0,155.00 95.4,155.00 95.8,155.00 96.2,155.00 96.6,155.00 97.0,155.00 97.4,155.00 97.8,155.00 98.2,155.00 98.6,155.00 99.0,155.00 99.4,155.00 99.8,155.00 100.2,155.00 100.6,155.00 101.0,155.00 101.4,155.00 101.8,155.00 102.2,155.00 102.6,155.00 103.0,156.00 103.4,156.00 103.8,156.00 104.2,156.00 104.6,156.00 105.0,156.00 105.4,156.00 105.8,156.00 106.2,156.00 106.6,156.00 107.0,156.00 107.4,156.00 107.8,156.00 108.2,156.00 108.6,156.00 109.0,156.00 109.4,156.00 109.8,156.00 110.2,157.00 110.6,157.00 111.0,157.00 111.4,157.00 111.8,157.00 112.2,157.00 112.6,157.00 113.0,157.00 113.4,157.00 113.8,157.00 114.2,157.00 114.6,157.00 115.0,157.00 115.4,157.00 115.8,157.00 116.2,157.00 116.6,157.00 117.0,157.00 117.4,158.00 117.8,158.00 118.2,158.00 118.6,158.00 119.0,158.00 119.4,158.00 119.8,158.00 120.2,158.00 120.6,158.00 121.0,158.00 121.4,158.00 121.8,158.00 122.2,158.00 122.6,158.00 123.0,158.00 123.4,158.00 123.8,158.00 124.2,158.00 124.6,159.00 125.0,159.00 125.4,159.00 125.8,159.00 126.2,159.00 126.6,159.00 127.0,159.00 127.4,159.00 127.8,159.00 128.2,159.00 128.6,159.00 129.0,159.00 129.4,159.00 129.8,159.00 130.2,159.00 130.6,159.00 131.0,159.00 131.4,160.00 131.8,160.00 132.2,160.00 132.6,160.00 133.0,160.00 133.4,160.00 133.8,160.00 134.2,160.00 134.6,160.00 135.0,160.00 135.4,160.00 135.8,160.00 136.2,160.00 136.6,160.00 137.0,160.00 137.4,160.00 137.8,160.00 138.2,160.00 138.6,160.00 139.0,161.00 139.4,161.00 139.8,161.00 140.2,161.00 140.6,161.00 141.0,161.00 141.4,161.00 141.8,161.00 142.2,161.00 142.6,161.00 143.0,161.00 143.4,161.00 143.8,161.00 144.2,161.00 144.6,161.00 145.0,161.00 145.4,161.00 145.8,161.00 146.2,161.00 146.6,161.00 147.0,161.00 147.4,161.00 147.8,162.00 148.2,162.00 148.6,162.00 149.0,162.00 149.4,162.00 149.8,162.00 150.2,162.00 150.6,162.00 151.0,162.00 151.4,162.00 151.8,162.00 152.2,162.00 152.6,162.00 153.0,162.00 153.4,162.00 153.8,162.00 154.2,162.00 154.6,162.00 155.0,162.00 155.4,162.90 155.8,162.00 156.2,162.00 156.6,162.00 157.0,162.00 157.4,162.00 157.8,162.00 158.2,162.00 158.6,162.00 159.0,162.90 159.4,162.00 159.8,162.00 160.2,162.00 160.6,163.00 161.0,163.00 161.4,163.00 161.8,163.00 162.2,163.00 162.6,163.00 163.0,163.00 163.4,163.00 163.8,163.00 164.2,163.00 164.6,163.00 165.0,163.00 165.4,163.00 165.8,163.00 166.2,163.00 166.6,163.00 167.0,163.00 167.4,163.00 167.8,163.00 168.2,163.00 168.6,163.00 169.0,163.00 169.4,163.00 169.8,163.00 170.2,163.00 170.6,163.00 171.0,163.00 171.4,163.00 171.8,163.00 172.2,163.00 172.6,163.00 173.0,163.00 173.4,163.00 173.8,163.00 174.2,163.00 174.6,163.00 175.0,163.00 175.4,163.00 175.8,163.00 176.2,163.00 176.6,163.00 177.0,163.00 177.4,164.00 177.8,164.00 178.2,164.00 178.6,164.00 179.0,164.00 179.4,164.00 179.8,164.00 180.2,163.10 180.6,164.00 181.0,164.00 181.4,164.00 181.8,164.00 182.2,164.00 182.6,164.00 183.0,164.00 183.4,164.00 183.8,163.10 184.2,164.00 184.6,164.00 185.0,164.00 185.4,164.00 185.8,164.00 186.2,164.00 186.6,164.00 187.0,164.00 187.4,164.00 187.8,164.00 188.2,164.00 188.6,164.00 189.0,164.00 189.4,164.00 189.8,164.00 190.2,164.00 190.6,164.00 191.0,164.00 191.4,164.00 191.8,164.00 192.2,164.00 192.6,164.00 193.0,164.00 193.4,163.10 193.8,164.00 194.2,164.00 194.6,164.00 195.0,164.00 195.4,164.00 195.8,164.00 196.2,164.00 196.6,164.00 197.0,164.00 197.4,164.00 197.8,165.90 198.2,165.00 198.6,165.00 199.0,165.00 199.4,165.00 199.8,165.90 200.2,165.00 200.6,165.00 201.0,165.00 201.4,165.00 201.8,165.00 202.2,165.00 202.6,165.00 203.0,165.00 203.4,165.00 203.8,165.00 204.2,165.00 204.6,164.10 205.0,165.00 205.4,165.00 205.8,165.00 206.2,165.00 206.6,165.00 207.0,165.00 207.4,165.00 207.8,165.00 208.2,165.00 208.6,165.00 209.0,165.00 209.4,164.10 209.8,165.00 210.2,165.00 210.6,165.00 211.0,165.00 211.4,165.00 211.8,165.00 212.2,165.00 212.6,165.00 213.0,165.10 213.4,166.00 213.8,166.00 214.2,166.00 214.6,166.00 215.0,166.00 215.4,166.00 215.8,166.00 216.2,166.00 216.6,166.00 217.0,166.00 217.4,166.00 217.8,166.00 218.2,166.00 218.6,166.00 219.0,166.00 219.4,166.00 219.8,166.00 220.2,166.00 220.6,166.00 221.0,166.00 221.4,166.00 221.8,166.00 222.2,166.00 222.6,166.00 223.0,166.00 223.4,166.00 223.8,166.00 224.2,166.00 224.6,166.00 225.0,166.00 225.4,166.00 225.8,166.00 226.2,166.00 226.6,166.00 227.0,165.10 227.4,165.10 227.8,166.00 228.2,166.00 228.6,166.00 229.0,166.00 229.4,166.00 229.8,166.00 230.2,166.00 230.6,166.00 231.0,167.00 231.4,167.00 231.8,167.00 232.2,167.00 232.6,167.00 233.0,167.00 233.4,167.00 233.8,167.00 234.2,167.00 234.6,167.00 235.0,167.00 235.4,167.00 235.8,167.00 236.2,167.00 236.6,167.00 237.0,167.00 237.4,167.00 237.8,167.00 238.2,167.00 238.6,167.00 239.0,167.00 239.4,167.00 239.8,167.00 240.2,167.00 240.6,167.00 241.0,167.00 241.4,167.00 241.8,167.00 242.2,167.00 242.6,167.00 243.0,167.00 243.4,167.00 243.8,167.00 244.2,167.00 244.6,167.00 245.0,167.90 245.4,167.00 245.8,167.00 246.2,167.00 246.6,167.90 247.0,167.00 247.4,167.00 247.8,167.00 248.2,167.00 248.6,167.00 249.0,167.00 249.4,167.00 249.8,167.00 250.2,167.00 250.6,166.10 251.0,167.00 251.4,167.00 251.8,167.00 252.2,167.00 252.6,167.00 253.0,167.00 253.4,167.00 253.8,167.00 254.2,167.00 254.6,167.00 255.0,167.00 255.4,167.00 255.8,167.00 256.2,167.00 256.6,167.00 257.0,167.00 257.4,167.00 257.8,167.00 258.2,167.00 258.6,167.00 259.0,167.00 259.4,167.00 259.8,167.00 260.2,167.00 260.6,167.00 261.0,167.00 261.4,167.00 261.8,167.00 262.2,167.00 262.6,167.90 263.0,167.00 263.4,167.00 263.8,167.00 264.2,167.00 264.6,167.00 265.0,167.00 265.4,167.00 265.8,167.00 266.2,167.00 266.6,167.00 267.0,167.00 267.4,167.00 267.8,167.00 268.2,167.00 268.6,167.00 269.0,167.00 269.4,167.00 269.8,167.00 270.2,167.00 270.6,167.00 271.0,167.00 271.4,167.00 271.8,167.00 272.2,167.00 272.6,167.00 273.0,167.90 273.4,167.00 273.8,167.00 274.2,167.00 274.6,167.00 275.0,167.00 275.4,167.00 275.8,167.00 276.2,167.00 276.6,167.00 277.0,167.00 277.4,167.00 277.8,166.10 278.2,167.00 278.6,167.00 279.0,167.00 279.4,167.00 279.8,167.00 280.2,167.00 280.6,167.00 281.0,167.00 281.4,167.90 281.8,167.00 282.2,167.00 282.6,167.00 283.0,167.00 283.4,167.00 283.8,167.00 284.2,167.00 284.6,167.00 285.0,167.00 285.4,167.00 285.8,167.00 286.2,167.00 286.6,167.00 287.0,167.00 287.4,167.00 287.8,167.00 288.2,167.00 288.6,167.00 289.0,167.00 289.4,167.00 289.8,167.90 290.2,167.00 290.6,167.00 291.0,167.00 291.4,167.00 291.8,167.00 292.2,167.00 292.6,167.00 293.0,167.00 293.4,167.00 293.8,168.00 294.2,168.00 294.6,168.00 295.0,168.00 295.4,168.00 295.8,168.00 296.2,168.00 296.6,168.00 297.0,168.00 297.4,168.00 297.8,168.00 298.2,168.00 298.6,168.00 299.0,168.00 299.4,168.00 299.8,168.00 300.2,168.00 300.6,168.00 301.0,168.00 301.4,168.00 301.8,168.00 302.2,168.00 302.6,168.00 303.0,168.00 303.4,168.00 303.8,168.00 304.2,168.00 304.6,168.00 305.0,168.00 305.4,168.00 305.8,168.00 306.2,168.00 306.6,167.10 307.0,168.00 307.4,168.00 307.8,168.00 308.2,168.00 308.6,168.00 309.0,168.00 309.4,168.00 309.8,168.00 310.2,168.00 310.6,168.00 311.0,168.00 311.4,168.00 311.8,168.00 312.2,168.00 312.6,168.00 313.0,168.00 313.4,168.00 313.8,168.00 314.2,168.00 314.6,168.00 315.0,168.00 315.4,168.00 315.8,168.00 316.2,168.00 316.6,168.00 317.0,168.00 317.4,168.00 317.8,168.00 318.2,168.00 318.6,168.00 319.0,168.00 319.4,168.00 319.8,168.00 320.2,168.00 320.6,168.00 321.0,168.00 321.4,168.00 321.8,168.00 322.2,168.00 322.6,168.00 323.0,168.00 323.4,168.00 323.8,168.00 324.2,168.00 324.6,168.00 325.0,168.00 325.4,168.00 325.8,168.00 326.2,168.00 326.6,168.00 327.0,168.00 327.4,168.00 327.8,168.00 328.2,168.00 328.6,168.00 329.0,168.00 329.4,168.00 329.8,168.00 330.2,168.00 330.6,168.00 331.0,168.00 331.4,168.00 331.8,168.00 332.2,168.00 332.6,168.00 333.0,168.00 333.4,168.00 333.8,168.00 334.2,168.00 334.6,168.00 335.0,168.00 335.4,168.00 335.8,168.00 336.2,168.00 336.6,168.00 337.0,168.00 337.4,168.00 337.8,168.00 338.2,168.00 338.6,168.00 339.0,168.00 339.4,169.00 339.8,169.00 340.2,169.00 340.6,169.00 341.0,169.00 341.4,169.00 341.8,169.00 342.2,169.00 342.6,169.00 343.0,169.00 343.4,168.10 343.8,169.00 344.2,169.90 344.6,169.00 345.0,169.00 345.4,169.00 345.8,169.90 346.2,169.00 346.6,169.00 347.0,169.00 347.4,169.00 347.8,169.00 348.2,169.00 348.6,169.00 349.0,169.00 349.4,169.00 349.8,169.00 350.2,169.00 350.6,169.00 351.0,169.00 351.4,169.00 351.8,169.00 352.2,169.00 352.6,169.00 353.0,169.00 353.4,169.00 353.8,169.00 354.2,169.00 354.6,169.00 355.0,169.00 355.4,169.00 355.8,169.00 356.2,169.00 356.6,169.00 357.0,169.00 357.4,169.00 357.8,169.00 358.2,169.00 358.6,169.00 359.0,169.00 359.4,169.00 359.8,169.00 360.2,169.00 360.6,169.00 361.0,169.00 361.4,169.00 361.8,169.00 362.2,169.00 362.6,169.00 363.0,169.00 363.4,169.00 363.8,169.00 364.2,169.00 364.6,169.00 365.0,169.00 365.4,169.00 365.8,169.00 366.2,169.00 366.6,169.00 367.0,169.00 367.4,169.00 367.8,169.00 368.2,169.00 368.6,170.00 369.0,170.00 369.4,170.00 369.8,170.00 370.2,170.00 370.6,170.00 371.0,170.00 371.4,170.00 371.8,170.00 372.2,170.00 372.6,170.00 373.0,170.00 373.4,170.00 373.8,170.00 374.2,170.00 374.6,170.00 375.0,170.00 375.4,170.00 375.8,170.00 376.2,170.00 376.6,170.00 377.0,170.00 377.4,170.00 377.8,170.00 378.2,170.00 378.6,170.00 379.0,170.00 379.4,170.00 379.8,170.00 380.2,170.00 380.6,170.00 381.0,170.00 381.4,170.00 381.8,170.00 382.2,170.00 382.6,170.00 383.0,170.00 383.4,170.00 383.8,170.00 384.2,170.00 384.6,170.00 385.0,170.00 385.4,170.00 385.8,170.00 386.2,170.00 386.6,170.00 387.0,170.00 387.4,169.10 387.8,170.00 388.2,170.00 388.6,170.00 389.0,170.00 389.4,170.00 389.8,170.00 390.2,170.00 390.6,170.00 391.0,170.00 391.4,170.00 391.8,170.00 392.2,170.00 392.6,170.00 393.0,170.00 393.4,170.00 393.8,170.00 394.2,170.00 394.6,170.00 395.0,170.00 395.4,170.00 395.8,170.00 396.2,170.00 396.6,170.00 397.0,170.00 397.4,170.00 397.8,170.00 398.2,170.00 398.6,170.00 399.0,170.00 399.4,170.00 399.8,170.00 400.2,170.00 400.6,170.00 401.0,170.00 401.4,170.00 401.8,170.00 402.2,170.00 402.6,170.00 403.0,170.00 403.4,170.00 403.8,170.00 404.2,170.00 404.6,170.00 405.0,170.00 405.4,170.00 405.8,170.00 406.2,170.00 406.6,170.00 407.0,170.00 407.4,170.00 407.8,170.00 408.2,170.00 408.6,170.00 409.0,170.00 409.4,170.00 409.8,170.00 410.2,170.00 410.6,170.00 411.0,170.00 411.4,170.00 411.8,170.00 412.2,169.10 412.6,170.00 413.0,170.00 413.4,170.00 413.8,170.00 414.2,170.00 414.6,170.00 415.0,170.00 415.4,170.00 415.8,170.00 416.2,170.00 416.6,169.10 417.0,170.00 417.4,170.00 417.8,170.00 418.2,169.10 418.6,170.00 419.0,170.00 419.4,170.00 419.8,170.00 420.2,170.00 420.6,170.00 421.0,170.00 421.4,170.00 421.8,170.00 422.2,170.00 422.6,170.00 423.0,170.00 423.4,170.00 423.8,169.10 424.2,170.00 424.6,170.00 425.0,170.00 425.4,170.00 425.8,170.90 426.2,170.00 426.6,170.00 427.0,170.00 427.4,170.00 427.8,170.00 428.2,170.00 428.6,170.00 429.0,170.00 429.4,170.00 429.8,170.00 430.2,170.00 430.6,170.00 431.0,170.00 431.4,170.00 431.8,170.00 432.2,169.10 432.6,170.00 433.0,170.00 433.4,170.00 433.8,170.00 434.2,170.00 434.6,170.00 435.0,170.00 435.4,170.00 435.8,170.00 436.2,170.00 436.6,170.00 437.0,170.00 437.4,170.00 437.8,170.00 438.2,170.00 438.6,170.00 439.0,170.00 439.4,170.00 439.8,170.00 440.2,170.00 440.6,170.00 441.0,170.00 441.4,170.00 441.8,170.00 442.2,170.00 442.6,171.00 443.0,171.00 443.4,171.00 443.8,171.00 444.2,171.00 444.6,171.00 445.0,171.00 445.4,171.00 445.8,171.90 446.2,171.00 446.6,171.00 447.0,171.00 447.4,171.00 447.8,171.00 448.2,171.00 448.6,171.00 449.0,171.00 449.4,171.00 449.8,171.00 450.2,171.00 450.6,171.00 451.0,171.00 451.4,171.00 451.8,170.10 452.2,171.00 452.6,171.00 453.0,171.00 453.4,171.00 453.8,171.00 454.2,171.00 454.6,171.00 455.0,171.00 455.4,171.00 455.8,171.00 456.2,171.00 456.6,171.00 457.0,171.00 457.4,171.00 457.8,171.00 458.2,171.00 458.6,171.00 459.0,171.00 459.4,171.00 459.8,171.00 460.2,171.00 460.6,171.00 461.0,171.90 461.4,171.00 461.8,171.00 462.2,171.00 462.6,171.00 463.0,171.00 463.4,171.00 463.8,171.00 464.2,171.00 464.6,171.00 465.0,171.00 465.4,171.00 465.8,171.00 466.2,171.00 466.6,171.00 467.0,171.00 467.4,171.00 467.8,171.00 468.2,171.00 468.6,171.00 469.0,170.10 469.4,171.00 469.8,171.00 470.2,171.00 470.6,170.10 471.0,171.00 471.4,171.00 471.8,171.00 472.2,171.00 472.6,171.00 473.0,171.00 473.4,171.00 473.8,171.00 474.2,171.00 474.6,171.00 475.0,171.00 475.4,171.00 475.8,171.00 476.2,171.00 476.6,171.00 477.0,171.00 477.4,171.00 477.8,171.00 478.2,171.00 478.6,171.00 479.0,171.00 479.4,171.00 479.8,171.00 480.2,171.00 480.6,171.00 481.0,171.00 481.4,171.00 481.8,171.00 482.2,171.00 482.6,171.00 483.0,171.00 483.4,171.00 483.8,171.00 484.2,171.00 484.6,171.00 485.0,171.00 485.4,171.00 485.8,171.00 486.2,171.00 486.6,171.00 487.0,171.00 487.4,171.00 487.8,171.00 488.2,171.00 488.6,171.00 489.0,171.00 489.4,171.00 489.8,171.00 490.2,171.00 490.6,171.00 491.0,171.00 491.4,171.00 491.8,171.00 492.2,171.00 492.6,171.00 493.0,171.00 493.4,171.00 493.8,171.00 494.2,171.00 494.6,171.00 495.0,171.00 495.4,171.00 495.8,171.00 496.2,171.00 496.6,170.10 497.0,171.00 497.4,171.00 497.8,171.00 498.2,171.00 498.6,171.00 499.0,171.00 499.4,171.00 499.8,171.00 500.2,171.00 500.6,171.00 501.0,172.00 501.4,172.00 501.8,172.00 502.2,172.00 502.6,172.00 503.0,172.00 503.4,172.00 503.8,172.00 504.2,172.00 504.6,172.00 505.0,172.00 505.4,172.00 505.8,172.00 506.2,172.90 506.6,172.00 507.0,172.00 507.4,172.00 507.8,172.00 508.2,172.00 508.6,172.00 509.0,172.00 509.4,172.00 509.8,172.00 510.2,172.00 510.6,172.00 511.0,172.00 511.4,172.00 511.8,172.00 512.2,172.00 512.6,172.00 513.0,172.00 513.4,172.00 513.8,172.00 514.2,172.00 514.6,172.00 515.0,172.00 515.4,172.00 515.8,172.00 516.2,172.00 516.6,172.00 517.0,172.90 517.4,172.00 517.8,172.00 518.2,172.00 518.6,172.00 519.0,172.00 519.4,172.00 519.8,172.00 520.2,172.00 520.6,172.00 521.0,172.00 521.4,172.00 521.8,172.00 522.2,172.00 522.6,172.00 523.0,172.00 523.4,172.00 523.8,172.00 524.2,172.00 524.6,172.00 525.0,172.00 525.4,172.00 525.8,172.00 526.2,171.10 526.6,172.00 527.0,172.00 527.4,172.00 527.8,172.00 528.2,172.00 528.6,172.00 529.0,172.00 529.4,172.00 529.8,172.00 530.2,172.00 530.6,172.00 531.0,172.00 531.4,172.00 531.8,172.00 532.2,172.00 532.6,172.00 533.0,172.00 533.4,172.00 533.8,172.00 534.2,172.00 534.6,172.00 535.0,172.00 535.4,172.00 535.8,172.00 536.2,172.00 536.6,172.00 537.0,173.00 537.4,173.00 537.8,173.00 538.2,173.00 538.6,173.00 539.0,173.00 539.4,173.00 539.8,173.00 540.2,172.10 540.6,173.00 541.0,173.00 541.4,173.00 541.8,173.00 542.2,173.00 542.6,173.00 543.0,173.00 543.4,173.00 543.8,173.00 544.2,173.00 544.6,173.00 545.0,173.00 545.4,173.00 545.8,173.00 546.2,173.00 546.6,173.00 547.0,173.00 547.4,172.10 547.8,173.00 548.2,173.00 548.6,173.00 549.0,173.00 549.4,173.00 549.8,173.00 550.2,173.00 550.6,173.00 551.0,173.00 551.4,173.00 551.8,173.00 552.2,173.00"/>
</g>
<g stroke="#000" fill="none">
<path d="M62.6,8.80 V404.35" stroke-width="1.25"/>
<path d="M58.7,403.65 H552.60" stroke-width="1.2"/>
<path d="M55.0,9.50H62.6M58.7,25.25H62.6M57.6,41.00H62.6M58.7,56.75H62.6M55.0,72.50H62.6M58.7,88.25H62.6M57.6,104.00H62.6M58.7,119.75H62.6M55.0,135.50H62.6M58.7,151.25H62.6M57.6,167.00H62.6M58.7,182.75H62.6M55.0,198.50H62.6M58.7,214.25H62.6M57.6,230.00H62.6M58.7,245.75H62.6M55.0,261.50H62.6M58.7,277.25H62.6M57.6,293.00H62.6M58.7,308.75H62.6M55.0,324.50H62.6M58.7,340.25H62.6M57.6,356.00H62.6M58.7,371.75H62.6M55.0,387.50H62.6M58.7,403.25H62.6" stroke-width="1.55"/>
<path d="M62.60,403.65v7.2M111.53,403.65v3.6M160.46,403.65v7.2M209.39,403.65v3.6M258.32,403.65v7.2M307.25,403.65v3.6M356.18,403.65v7.2M405.11,403.65v3.6M454.04,403.65v7.2M502.97,403.65v3.6M551.90,403.65v7.2" stroke-width="1.55"/>
</g>
<g font-size="17.6" text-anchor="end">
<text x="49.9" y="14.7">2.8</text>
<text x="49.9" y="77.7">2.4</text>
<text x="49.9" y="140.7">2.0</text>
<text x="49.9" y="203.7">1.6</text>
<text x="49.9" y="266.7">1.2</text>
<text x="49.9" y="329.7">0.8</text>
<text x="49.9" y="392.7">0.4</text>
</g>
<g font-size="17.6" text-anchor="middle">
<text x="62.9" y="429.3">0</text>
<text x="160.8" y="429.3">2</text>
<text x="258.6" y="429.3">4</text>
<text x="356.5" y="429.3">6</text>
<text x="454.3" y="429.3">8</text>
<text x="552.2" y="429.3">10</text>
</g>
<text x="307.6" y="460.5" font-size="20.5" text-anchor="middle">time [min]</text>
<text transform="translate(17.3,206.5) rotate(-90)" font-size="20.6" text-anchor="middle">S' [dNm]</text>
<rect x="226.9" y="239.1" width="457.2" height="151.9" fill="#fff" stroke="#a4a4a4" stroke-width="1.6"/>
<line x1="235.5" x2="270.3" y1="259.6" y2="259.6" stroke="#86F853" stroke-width="2.3"/>
<text y="262.1" font-size="16.6" fill="#111"><tspan x="279.0" textLength="78.6" lengthAdjust="spacingAndGlyphs">Reference</tspan></text>
<line x1="235.5" x2="270.3" y1="281.6" y2="281.6" stroke="#4876CA" stroke-width="2.3"/>
<text y="285.3" font-size="16.6" fill="#111"><tspan x="279.0" textLength="102.0" lengthAdjust="spacingAndGlyphs">Devulcanized</tspan> <tspan x="388.5" textLength="46.5" lengthAdjust="spacingAndGlyphs">EPDM</tspan></text>
<line x1="235.5" x2="270.3" y1="302.5" y2="302.5" stroke="#FFC000" stroke-width="1.3"/>
<text y="308.5" font-size="16.6" fill="#111"><tspan x="279.0" textLength="19.3" lengthAdjust="spacingAndGlyphs">20</tspan> <tspan x="302.1" textLength="15.2" lengthAdjust="spacingAndGlyphs">%</tspan> <tspan x="322.0" textLength="101.9" lengthAdjust="spacingAndGlyphs">Devulcanized</tspan> <tspan x="430.6" textLength="46.9" lengthAdjust="spacingAndGlyphs">EPDM</tspan></text>
<line x1="235.5" x2="270.3" y1="326.3" y2="326.3" stroke="#FF7F0E" stroke-width="1.3"/>
<text y="331.9" font-size="16.6" fill="#111"><tspan x="279.0" textLength="19.3" lengthAdjust="spacingAndGlyphs">40</tspan> <tspan x="302.1" textLength="15.2" lengthAdjust="spacingAndGlyphs">%</tspan> <tspan x="322.0" textLength="101.9" lengthAdjust="spacingAndGlyphs">Devulcanized</tspan> <tspan x="430.6" textLength="46.9" lengthAdjust="spacingAndGlyphs">EPDM</tspan></text>
<line x1="235.5" x2="270.3" y1="350.4" y2="350.4" stroke="#D79208" stroke-width="1.3"/>
<text y="354.6" font-size="16.6" fill="#111"><tspan x="279.0" textLength="19.3" lengthAdjust="spacingAndGlyphs">60</tspan> <tspan x="302.1" textLength="15.2" lengthAdjust="spacingAndGlyphs">%</tspan> <tspan x="322.0" textLength="101.9" lengthAdjust="spacingAndGlyphs">Devulcanized</tspan> <tspan x="430.6" textLength="46.9" lengthAdjust="spacingAndGlyphs">EPDM</tspan></text>
<line x1="235.5" x2="270.3" y1="374.5" y2="374.5" stroke="#7B3F0A" stroke-width="1.3"/>
<text y="378.4" font-size="16.6" fill="#111"><tspan x="279.0" textLength="19.3" lengthAdjust="spacingAndGlyphs">60</tspan> <tspan x="302.1" textLength="15.2" lengthAdjust="spacingAndGlyphs">%</tspan> <tspan x="322.0" textLength="101.9" lengthAdjust="spacingAndGlyphs">Devulcanized</tspan> <tspan x="430.6" textLength="46.9" lengthAdjust="spacingAndGlyphs">EPDM</tspan> <tspan x="482.1" textLength="34.1" lengthAdjust="spacingAndGlyphs">with</tspan> <tspan x="520.8" textLength="48.0" lengthAdjust="spacingAndGlyphs">recipe</tspan> <tspan x="574.1" textLength="89.4" lengthAdjust="spacingAndGlyphs">adjustment</tspan></text>
</svg>
</body></html>
